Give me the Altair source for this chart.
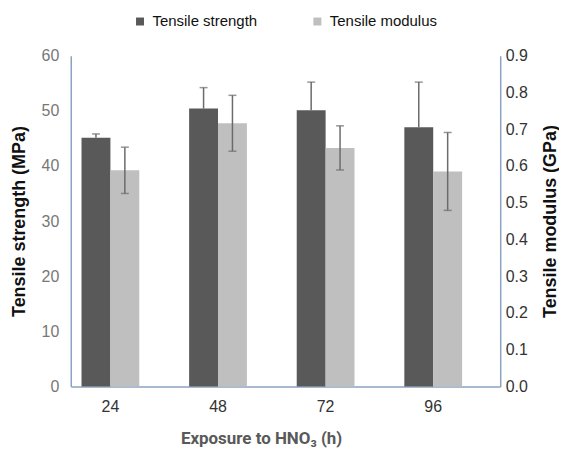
import altair as alt
import pandas as pd

hours = ["24", "48", "72", "96"]
series = ["Tensile strength", "Tensile modulus"]
colors = ["#595959", "#bfbfbf"]

strength = [45.1, 50.4, 50.1, 47.0]          # MPa
strength_err = [0.7, 3.8, 5.1, 8.2]
modulus = [0.588, 0.716, 0.649, 0.585]       # GPa
modulus_err = [0.063, 0.076, 0.060, 0.106]

s_df = pd.DataFrame({
    "hours": hours,
    "series": series[0],
    "value": strength,
    "lo": strength,
    "hi": [v + e for v, e in zip(strength, strength_err)],
})
m_df = pd.DataFrame({
    "hours": hours,
    "series": series[1],
    "value": modulus,
    "lo": [v - e for v, e in zip(modulus, modulus_err)],
    "hi": [v + e for v, e in zip(modulus, modulus_err)],
})

AXIS_COLOR = "#8aa3c0"
FONT = "Liberation Sans"
ERR = "#6b6b6b"

x_enc = alt.X(
    "hours:N",
    sort=hours,
    scale=alt.Scale(paddingInner=0.463, paddingOuter=0.227, align=0.22),
    axis=alt.Axis(
        title="Exposure to HNO₃ (h)",
        labelAngle=0,
        labelFontSize=16,
        labelColor="#333333",
        labelPadding=12,
        ticks=False,
        domainColor=AXIS_COLOR,
        domainWidth=1.5,
        titleFont="Roboto",
        titleFontSize=17,
        titleColor="#595959",
        titleFontWeight="bold",
        titleX=191,
        titleY=57,
        titleBaseline="alphabetic",
        titleAnchor="start",
        titleAlign="center",
    ),
)
xo_enc = alt.XOffset("series:N", scale=alt.Scale(domain=series, paddingInner=0, paddingOuter=0))
color_enc = alt.Color(
    "series:N",
    scale=alt.Scale(domain=series, range=colors),
    legend=alt.Legend(
        title=None,
        orient="none",
        legendX=62,
        legendY=-42,
        direction="horizontal",
        symbolType="square",
        symbolSize=64,
        symbolStrokeWidth=0,
        labelFontSize=15,
        labelColor="#111111",
        labelFont=FONT,
        columnPadding=52,
        labelOffset=5,
    ),
)

y_left = alt.Scale(domain=[0, 60], nice=False)
y_right = alt.Scale(domain=[0, 0.9], nice=False)

left_axis = alt.Axis(
    title="Tensile strength (MPa)",
    values=[0, 10, 20, 30, 40, 50, 60],
    grid=False,
    ticks=False,
    labelFontSize=16,
    labelColor="#777777",
    labelPadding=12,
    domainColor=AXIS_COLOR,
    domainWidth=1.5,
    titleFontSize=18,
    titleFontWeight="bold",
    titleColor="#111111",
    titleX=-51,
    titleY=166,
    titleAlign="center",
    titleBaseline="middle",
    titleAngle=270,
)
right_axis = alt.Axis(
    title="Tensile modulus (GPa)",
    orient="right",
    values=[0, 0.1, 0.2, 0.3, 0.4, 0.5, 0.6, 0.7, 0.8, 0.9],
    format=".1f",
    grid=False,
    ticks=False,
    labelFontSize=16,
    labelColor="#333333",
    labelPadding=5,
    domainColor=AXIS_COLOR,
    domainWidth=1.5,
    titleFontSize=18,
    titleFontWeight="bold",
    titleColor="#111111",
    titleX=50,
    titleY=166,
    titleAlign="center",
    titleBaseline="middle",
    titleAngle=270,
)

s_bar = alt.Chart(s_df).mark_bar().encode(
    x=x_enc, xOffset=xo_enc, color=color_enc,
    y=alt.Y("value:Q", scale=y_left, axis=left_axis),
)
s_rule = alt.Chart(s_df).mark_rule(color=ERR, strokeWidth=1.5).encode(
    x=x_enc, xOffset=xo_enc,
    y=alt.Y("lo:Q", scale=y_left, axis=left_axis), y2="hi:Q",
)
s_cap = alt.Chart(s_df).mark_tick(color=ERR, thickness=1.5, size=8).encode(
    x=x_enc, xOffset=xo_enc,
    y=alt.Y("hi:Q", scale=y_left, axis=left_axis),
)
left = alt.layer(s_bar, s_rule, s_cap)

m_bar = alt.Chart(m_df).mark_bar().encode(
    x=x_enc, xOffset=xo_enc, color=color_enc,
    y=alt.Y("value:Q", scale=y_right, axis=right_axis),
)
m_rule = alt.Chart(m_df).mark_rule(color=ERR, strokeWidth=1.5).encode(
    x=x_enc, xOffset=xo_enc,
    y=alt.Y("lo:Q", scale=y_right, axis=right_axis), y2="hi:Q",
)
m_cap_hi = alt.Chart(m_df).mark_tick(color=ERR, thickness=1.5, size=8).encode(
    x=x_enc, xOffset=xo_enc,
    y=alt.Y("hi:Q", scale=y_right, axis=right_axis),
)
m_cap_lo = alt.Chart(m_df).mark_tick(color=ERR, thickness=1.5, size=8).encode(
    x=x_enc, xOffset=xo_enc,
    y=alt.Y("lo:Q", scale=y_right, axis=right_axis),
)
right = alt.layer(m_bar, m_rule, m_cap_hi, m_cap_lo)

chart = (
    alt.layer(left, right)
    .resolve_scale(y="independent")
    .properties(
        width=431,
        height=332,
        autosize=alt.AutoSizeParams(type="none"),
        padding={"left": 63, "top": 47, "right": 59, "bottom": 70},
    )
    .configure(font=FONT)
    .configure_view(stroke=None)
    .configure_axis(labelFont=FONT)
)

chart.save("out.html", embed_options={"renderer": "svg", "actions": False})
